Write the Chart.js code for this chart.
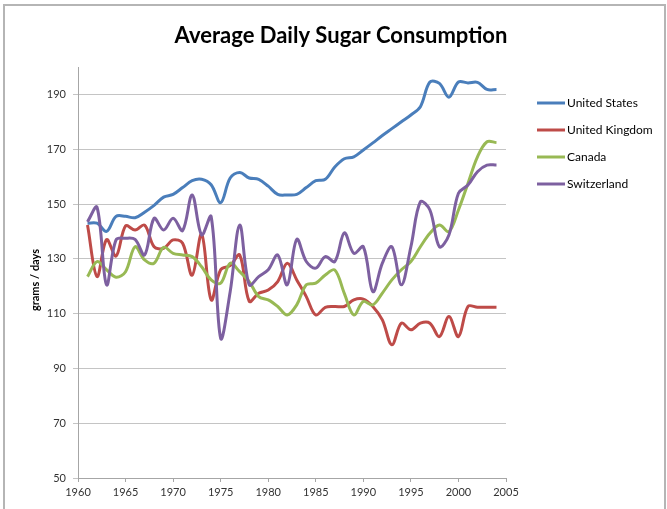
<!DOCTYPE html>
<html lang="en">
<head>
  <meta charset="UTF-8" />
  <title>Average Daily Sugar Consumption</title>
  <script src="https://cdn.jsdelivr.net/npm/chart.js"></script>
  <style>
    body { margin: 0; background: #fff; }
    .wrap { position: relative; width: 667px; height: 509px; overflow: hidden; }
    .edge {
      position: absolute;
      left: 3px; top: 4px; right: 1px; bottom: -10px;
      border-left: 2px solid #b5b5b5;
      border-top: 2px solid #b5b5b5;
      border-right: 2px solid #b5b5b5;
    }
    canvas { position: absolute; left: 0; top: 0; }
  </style>
</head>
<body>
<div class="wrap">
  <div class="edge"></div>
  <canvas id="sugarChart" width="667" height="509"></canvas>
</div>

<script>
// yearly values, grams per day
const years = [1961, 1962, 1963, 1964, 1965, 1966, 1967, 1968, 1969, 1970,
               1971, 1972, 1973, 1974, 1975, 1976, 1977, 1978, 1979, 1980,
               1981, 1982, 1983, 1984, 1985, 1986, 1987, 1988, 1989, 1990,
               1991, 1992, 1993, 1994, 1995, 1996, 1997, 1998, 1999, 2000,
               2001, 2002, 2003, 2004];
const unitedStates = [143, 143, 140, 145.5, 145.5, 145, 147, 149.5, 152.5, 153.5,
                      156, 158.5, 159, 157, 150.5, 159.5, 161.5, 159.5, 159, 156.5,
                      153.5, 153.3, 153.5, 156, 158.5, 159, 163.5, 166.5, 167.2, 169.7,
                      172.3, 175, 177.5, 180, 182.5, 185.5, 194.5, 194, 189, 194.5,
                      194.2, 194.4, 191.8, 191.8];
const unitedKingdom = [142.3, 123.5, 137, 131, 142, 140.5, 142.3, 134.4, 133.8, 136.9,
                       135.7, 124, 139, 115, 126, 127.5, 131.4, 114.5, 117.4, 118.6,
                       121.7, 128.4, 122.3, 116.2, 109.5, 112.3, 112.6, 112.6, 115, 115.3,
                       112.6, 107.7, 98.6, 106.5, 104.1, 106.5, 106.5, 101.6, 108.9, 101.6,
                       112.6, 112.3, 112.3, 112.3];
const canada = [123.5, 129, 126, 123.3, 125.3, 134.4, 129.6, 128.4, 134.2, 132,
                131.4, 130.8, 127.1, 122.3, 121.1, 128.4, 125.3, 121.7, 116.2, 115,
                112.6, 109.5, 113.2, 120.5, 121.1, 124.1, 125.9, 117.4, 109.5, 114.4,
                113.2, 117.5, 122.3, 126, 129, 134.4, 139.3, 142.3, 139.9, 147.8,
                157.5, 167.2, 172.7, 172.4];
const switzerland = [143.5, 148.8, 120.5, 136.9, 137.5, 137.1, 131.4, 144.8, 140.5, 144.8,
                     140.3, 153.3, 138.7, 145.4, 101, 118, 142.3, 120.5, 123.5, 126,
                     131.4, 120.5, 137.1, 129, 126.6, 130.8, 129, 139.5, 132, 134.4,
                     118, 128.4, 134.4, 120.5, 134.4, 150.8, 147.8, 134.4, 138.7, 153.9,
                     156.9, 161.8, 164.2, 164.2];

const seriesNames = ['United States', 'United Kingdom', 'Canada', 'Switzerland'];
const seriesValues = [unitedStates, unitedKingdom, canada, switzerland];
const seriesColors = ['#4a7ebb', '#be4b48', '#98b954', '#7d60a0'];

const yTicks = [50, 70, 90, 110, 130, 150, 170, 190];
const xTicks = [1960, 1965, 1970, 1975, 1980, 1985, 1990, 1995, 2000, 2005];

// title, axis title and legend drawn straight on the canvas
const decorations = {
  id: 'decorations',
  afterDraw(chart) {
    const ctx = chart.ctx;
    ctx.save();
    ctx.fillStyle = '#000';
    ctx.textBaseline = 'middle';

    ctx.font = 'bold 22px Lato';
    ctx.textAlign = 'center';
    ctx.fillText('Average Daily Sugar Consumption', 341, 36);

    ctx.save();
    ctx.translate(35, 280);
    ctx.rotate(-Math.PI / 2);
    ctx.font = 'bold 11px Lato';
    ctx.fillText('grams / days', 0, 0);
    ctx.restore();

    ctx.textAlign = 'left';
    ctx.font = '12px Lato';
    chart.data.datasets.forEach((ds, i) => {
      const y = 103 + i * 27;
      ctx.strokeStyle = ds.borderColor;
      ctx.lineWidth = 3;
      ctx.beginPath();
      ctx.moveTo(537, y);
      ctx.lineTo(565, y);
      ctx.stroke();
      ctx.fillStyle = '#000';
      ctx.fillText(ds.label, 567, y);
    });
    ctx.restore();
  }
};

new Chart(document.getElementById('sugarChart'), {
  type: 'line',
  data: {
    datasets: seriesNames.map((name, i) => ({
      label: name,
      data: years.map((yr, j) => ({ x: yr, y: seriesValues[i][j] })),
      borderColor: seriesColors[i],
      borderWidth: 3,
      pointRadius: 0,
      tension: 0.35,
      fill: false,
      order: seriesNames.length - i
    }))
  },
  options: {
    responsive: false,
    animation: false,
    layout: { padding: { top: 67, right: 161, left: 0, bottom: 0 } },
    plugins: {
      legend: { display: false },
      tooltip: { enabled: false }
    },
    scales: {
      x: {
        type: 'linear',
        min: 1960,
        max: 2005,
        afterBuildTicks: s => { s.ticks = xTicks.map(v => ({ value: v })); },
        afterFit: s => { s.height = 31; },
        grid: { drawOnChartArea: false, tickLength: 4, color: '#a6a6a6' },
        border: { color: '#a6a6a6' },
        ticks: {
          font: { family: 'Lato', size: 11 },
          color: '#333',
          padding: 4,
          maxRotation: 0,
          autoSkip: false,
          callback: v => String(v)
        }
      },
      y: {
        min: 50,
        max: 200,
        afterBuildTicks: s => { s.ticks = yTicks.map(v => ({ value: v })); },
        afterFit: s => { s.width = 78; },
        grid: { color: '#c4c4c4', tickLength: 5 },
        border: { color: '#a6a6a6' },
        ticks: {
          font: { family: 'Lato', size: 11 },
          color: '#333',
          padding: 7,
          callback: v => String(v)
        }
      }
    }
  },
  plugins: [decorations]
});
</script>
</body>
</html>
